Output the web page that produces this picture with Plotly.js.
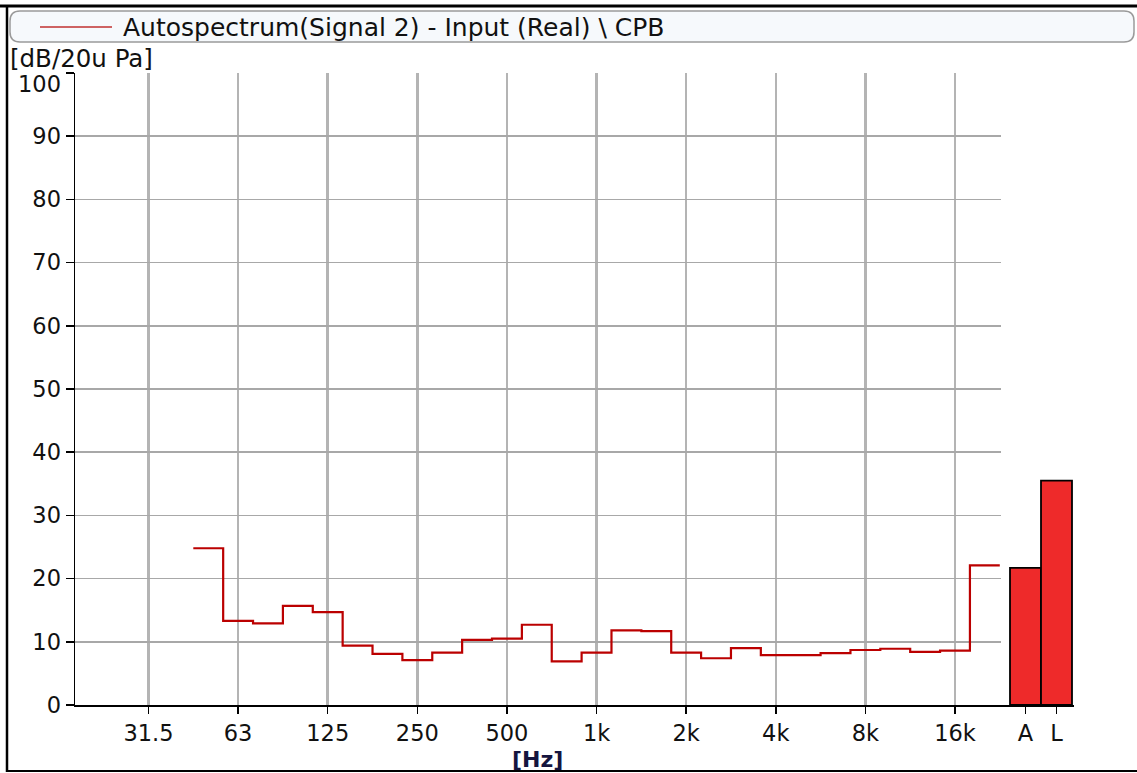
<!DOCTYPE html>
<html>
<head>
<meta charset="utf-8">
<script src="https://cdn.plot.ly/plotly-3.0.1.min.js"></script>
<style>html,body{margin:0;padding:0;background:#fff;}#chart{width:1137px;height:773px;}</style>
</head>
<body>
<div id="chart"></div>
<script>
// 1/3-octave band numbers (IEC: 30 = 1 kHz) from 50 Hz to 20 kHz
const bandNumbers = [17,18,19,20,21,22,23,24,25,26,27,28,29,30,31,32,33,34,35,36,37,38,39,40,41,42,43];
// CPB levels in dB re 20 uPa
const bandLevels = [24.8,13.3,12.9,15.7,14.7,9.4,8.1,7.1,8.3,10.3,10.5,12.7,6.9,8.3,11.8,11.7,8.3,7.4,9.0,7.9,7.9,8.2,8.7,8.9,8.4,8.6,22.1];
// octave tick positions and labels
const tickBands = [15,18,21,24,27,30,33,36,39,42];
const tickLabels = ['31.5','63','125','250','500','1k','2k','4k','8k','16k'];
// overall values
const overallLabels = ['A','L'];
const overallValues = [21.7,35.5];
const yTicks = [0,10,20,30,40,50,60,70,80,90,100];

// step edges
const stepX = bandNumbers.map(b => b - 0.5).concat([bandNumbers[bandNumbers.length-1] + 0.5]);
const stepY = bandLevels.concat([bandLevels[bandLevels.length-1]]);

const W = 1137, H = 773, L = 75, R = 63, T = 73, B = 68;
const PW = W - L - R, PH = H - T - B;
const px = X => (X - L) / PW;
const py = Y => (H - B - Y) / PH;
const split = (1001 - L) / PW;

const FONT = 'DejaVu Sans, Verdana, sans-serif';
const TICK = 22.5;

const traces = [
  {
    x: stepX, y: stepY, type: 'scatter', mode: 'lines',
    line: {shape: 'hv', color: '#bb0000', width: 2.2},
    xaxis: 'x', yaxis: 'y', hoverinfo: 'skip', showlegend: false
  },
  {
    x: overallLabels.map((_, i) => i), y: overallValues, type: 'bar', width: 1,
    marker: {color: '#ee2a2a', line: {color: '#000', width: 1.8}},
    xaxis: 'x2', yaxis: 'y2', hoverinfo: 'skip', showlegend: false
  }
];

// rounded legend box
function roundRect(x0, y0, x1, y1, r) {
  const X0 = px(x0), X1 = px(x1), Y0 = py(y0), Y1 = py(y1);
  const rx = r / PW, ry = r / PH;
  return `M ${X0+rx},${Y0} L ${X1-rx},${Y0} Q ${X1},${Y0} ${X1},${Y0-ry} L ${X1},${Y1+ry} Q ${X1},${Y1} ${X1-rx},${Y1} L ${X0+rx},${Y1} Q ${X0},${Y1} ${X0},${Y1+ry} L ${X0},${Y0-ry} Q ${X0},${Y0} ${X0+rx},${Y0} Z`;
}

const shapes = [
  {type: 'path', xref: 'paper', yref: 'paper', path: roundRect(10, 11, 1134, 42, 10),
   fillcolor: '#f6f9fc', line: {color: '#9a9a9a', width: 1.5}, layer: 'below'},
  {type: 'line', xref: 'paper', yref: 'paper', x0: px(40), x1: px(112), y0: py(27), y1: py(27),
   line: {color: '#c03030', width: 1.5}},
  {type: 'line', xref: 'paper', yref: 'paper', x0: px(0), x1: px(1137), y0: py(6), y1: py(6),
   line: {color: '#000', width: 3}},
  {type: 'line', xref: 'paper', yref: 'paper', x0: px(7), x1: px(7), y0: py(5), y1: py(772),
   line: {color: '#000', width: 2.5}},
  {type: 'line', xref: 'paper', yref: 'paper', x0: px(7), x1: px(1137), y0: py(771), y1: py(771),
   line: {color: '#000', width: 2}}
];

const annotations = [
  {xref: 'paper', yref: 'paper', x: px(121), y: py(27), xanchor: 'left', yanchor: 'middle',
   text: 'Autospectrum(Signal 2) - Input (Real) \\ CPB', showarrow: false,
   font: {family: FONT, size: 25, color: '#111'}},
  {xref: 'paper', yref: 'paper', x: px(8), y: py(58), xanchor: 'left', yanchor: 'middle',
   text: '[dB/20u Pa]', showarrow: false, font: {family: FONT, size: 24.5, color: '#111'}},
  {xref: 'paper', yref: 'paper', x: px(63), y: py(84), xanchor: 'right', yanchor: 'middle',
   text: String(yTicks[yTicks.length-1]), showarrow: false, font: {family: FONT, size: TICK, color: '#111'}},
  {xref: 'paper', yref: 'paper', x: px(537), y: py(759), xanchor: 'center', yanchor: 'middle',
   text: '<b>[Hz]</b>', showarrow: false, font: {family: FONT, size: 22, color: '#15153f'}}
];

const layout = {
  width: W, height: H,
  margin: {l: L, r: R, t: T, b: B, pad: 0},
  paper_bgcolor: '#fff', plot_bgcolor: '#fff',
  font: {family: FONT, size: TICK, color: '#111'},
  showlegend: false,
  xaxis: {
    domain: [0, split], range: [15 - (148.5 - L) / 29.87, 15 + (1001 - 148.5) / 29.87],
    tickmode: 'array', tickvals: tickBands, ticktext: tickLabels,
    showgrid: true, gridcolor: '#b4b4b4', gridwidth: 2.5,
    showline: true, linecolor: '#000', linewidth: 1.5, zeroline: false,
    ticks: 'outside', ticklen: 7, tickcolor: '#000', tickwidth: 1.5,
    tickfont: {family: FONT, size: TICK, color: '#111'}, anchor: 'y', fixedrange: true
  },
  yaxis: {
    domain: [0, 1], range: [0, 100],
    tickmode: 'array', tickvals: yTicks,
    ticktext: yTicks.map((v, i) => i === yTicks.length - 1 ? '' : String(v)),
    showgrid: true, gridcolor: '#a8a8a8', gridwidth: 1.5,
    showline: true, linecolor: '#000', linewidth: 1.5, zeroline: false,
    ticks: 'outside', ticklen: 8, tickcolor: '#000', tickwidth: 1.5,
    tickfont: {family: FONT, size: TICK, color: '#111'}, anchor: 'x', fixedrange: true
  },
  xaxis2: {
    domain: [split, 1], range: [(1001 - 1025.5) / 31, (1074 - 1025.5) / 31],
    tickmode: 'array', tickvals: overallLabels.map((_, i) => i), ticktext: overallLabels,
    showgrid: false, showline: true, linecolor: '#000', linewidth: 1.5, zeroline: false,
    ticks: 'outside', ticklen: 7, tickcolor: '#000', tickwidth: 1.5,
    tickfont: {family: FONT, size: TICK, color: '#111'}, anchor: 'y2', fixedrange: true
  },
  yaxis2: {
    domain: [0, 1], range: [0, 100], anchor: 'x2',
    showgrid: false, showline: false, zeroline: false, showticklabels: false, ticks: '', fixedrange: true
  },
  bargap: 0,
  shapes: shapes,
  annotations: annotations
};

Plotly.newPlot('chart', traces, layout, {displayModeBar: false, staticPlot: true});
</script>
</body>
</html>
